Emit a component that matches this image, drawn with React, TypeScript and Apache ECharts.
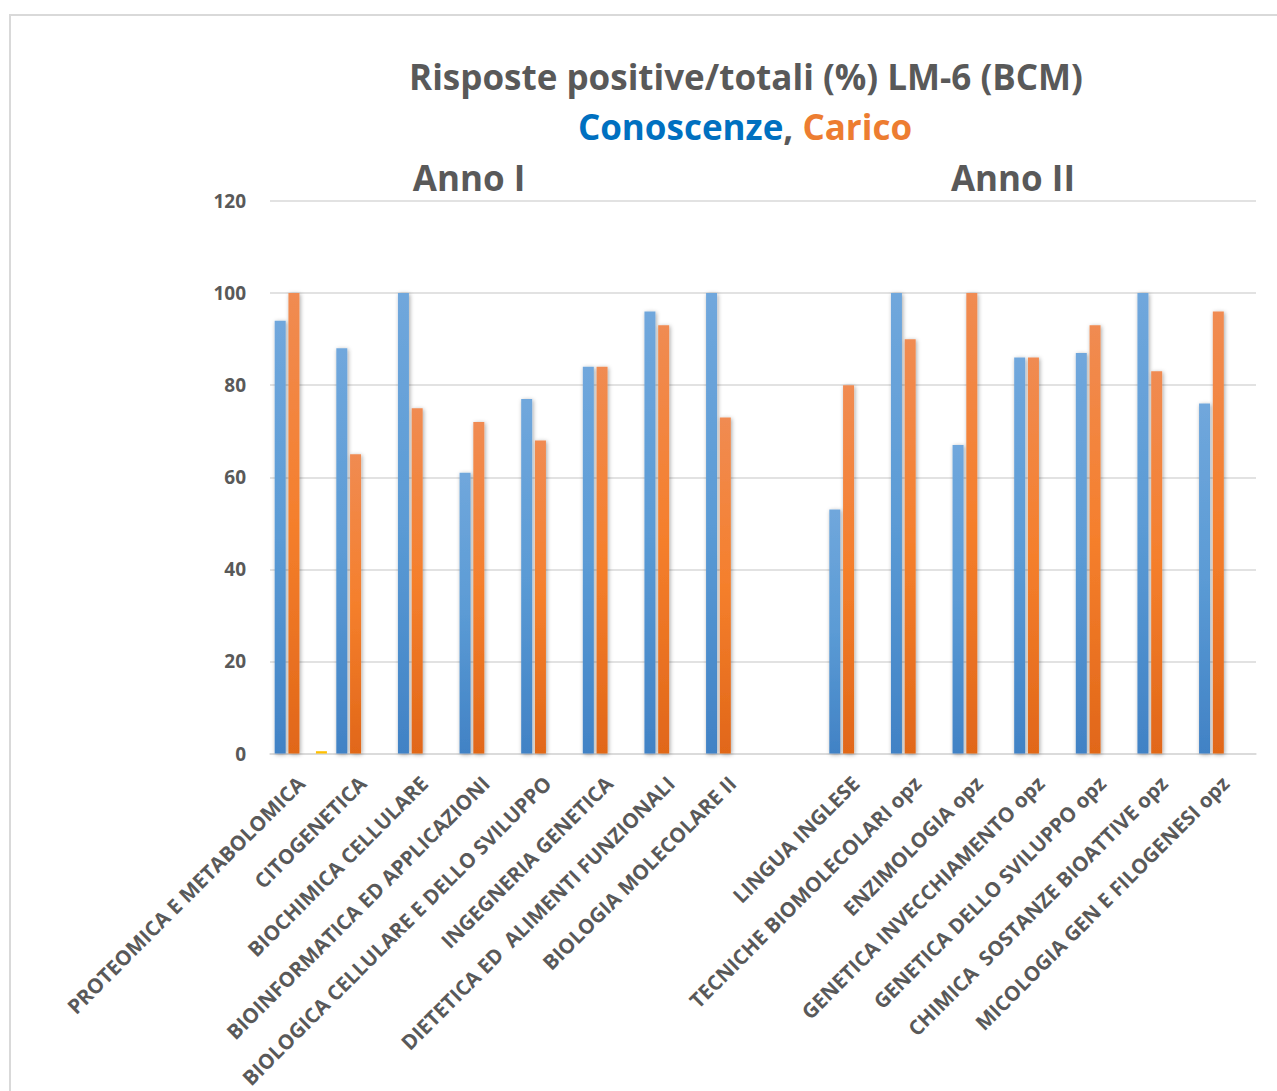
import React, { useEffect, useRef } from "react";
import * as echarts from "echarts";

const categories = [
  "PROTEOMICA E METABOLOMICA",
  "CITOGENETICA",
  "BIOCHIMICA CELLULARE",
  "BIOINFORMATICA ED APPLICAZIONI",
  "BIOLOGICA CELLULARE E DELLO SVILUPPO",
  "INGEGNERIA GENETICA",
  "DIETETICA ED  ALIMENTI FUNZIONALI",
  "BIOLOGIA MOLECOLARE II",
  "",
  "LINGUA INGLESE",
  "TECNICHE BIOMOLECOLARI opz",
  "ENZIMOLOGIA opz",
  "GENETICA INVECCHIAMENTO opz",
  "GENETICA DELLO SVILUPPO opz",
  "CHIMICA  SOSTANZE BIOATTIVE opz",
  "MICOLOGIA GEN E FILOGENESI opz",
];

const conoscenze = [94, 88, 100, 61, 77, 84, 96, 100, null, 53, 100, 67, 86, 87, 100, 76];
const carico = [100, 65, 75, 72, 68, 84, 93, 73, null, 80, 90, 100, 86, 93, 83, 96];
const serie3 = [null, null, null, null, null, null, null, null, null, null, null, null, null, null, null, null];
const serie4 = [0.5, null, null, null, null, null, null, null, null, null, null, null, null, null, null, null];

const yTicks = { min: 0, max: 120, interval: 20 };

const FONT = "'Open Sans', 'Liberation Sans', sans-serif";
const GRAY = "#595959";

export default function App() {
  const ref = useRef<HTMLDivElement>(null);

  useEffect(() => {
    if (!ref.current) return;
    const chart = echarts.init(ref.current, undefined, { renderer: "svg" });

    const blueGrad = new echarts.graphic.LinearGradient(0, 0, 0, 1, [
      { offset: 0, color: "#70a7dc" },
      { offset: 0.5, color: "#5b9bd5" },
      { offset: 1, color: "#4182c5" },
    ]);
    const orangeGrad = new echarts.graphic.LinearGradient(0, 0, 0, 1, [
      { offset: 0, color: "#f08b52" },
      { offset: 0.5, color: "#f57f2c" },
      { offset: 1, color: "#e16719" },
    ]);

    const shadow = {
      shadowBlur: 4,
      shadowColor: "rgba(0,0,0,0.35)",
      shadowOffsetX: 1,
      shadowOffsetY: 1,
    };

    const big = { fontFamily: FONT, fontWeight: "bold", fontSize: 35, color: GRAY };

    chart.setOption({
      animation: false,
      backgroundColor: "#ffffff",
      title: [
        {
          text: "Risposte positive/totali (%) LM-6 (BCM)",
          left: 741,
          top: 54,
          textAlign: "center",
          textStyle: big,
        },
        {
          text: "{b|Conoscenze}{g|, }{o|Carico}",
          left: 740,
          top: 104,
          textAlign: "center",
          textStyle: {
            rich: {
              b: { ...big, color: "#0070c0" },
              g: { ...big, color: GRAY },
              o: { ...big, color: "#ed7d31" },
            },
          },
        },
        { text: "Anno I", left: 464, top: 155, textAlign: "center", textStyle: big },
        { text: "Anno II", left: 1008, top: 155, textAlign: "center", textStyle: big },
      ],
      graphic: [
        {
          type: "rect",
          shape: { x: 10, y: 15, width: 1300, height: 1100 },
          style: { fill: "none", stroke: "#d9d9d9", lineWidth: 2 },
          silent: true,
        },
      ],
      grid: { left: 270, right: 21, top: 201, bottom: 335, containLabel: false },
      xAxis: {
        type: "category",
        data: categories,
        axisLine: { show: true, lineStyle: { color: "#d9d9d9", width: 1.5 } },
        axisTick: { show: false },
        axisLabel: {
          interval: 0,
          rotate: 45,
          margin: 26,
          fontFamily: FONT,
          fontWeight: "bold",
          fontSize: 20.5,
          color: GRAY,
        },
      },
      yAxis: {
        type: "value",
        min: yTicks.min,
        max: yTicks.max,
        interval: yTicks.interval,
        axisLine: { show: false },
        axisTick: { show: false },
        axisLabel: {
          margin: 24,
          fontFamily: FONT,
          fontWeight: "bold",
          fontSize: 19,
          color: GRAY,
        },
        splitLine: { lineStyle: { color: "#d9d9d9", width: 1.5 } },
      },
      series: [
        {
          name: "Conoscenze",
          type: "bar",
          data: conoscenze,
          barWidth: 11,
          barGap: "25%",
          itemStyle: { color: blueGrad, ...shadow },
        },
        {
          name: "Carico",
          type: "bar",
          data: carico,
          barWidth: 11,
          barGap: "25%",
          itemStyle: { color: orangeGrad, ...shadow },
        },
        {
          name: "Serie 3",
          type: "bar",
          data: serie3,
          barWidth: 11,
          barGap: "25%",
          itemStyle: { color: "#a5a5a5" },
        },
        {
          name: "Serie 4",
          type: "bar",
          data: serie4,
          barWidth: 11,
          barGap: "25%",
          itemStyle: { color: "#ffc000" },
        },
      ],
    });

    return () => chart.dispose();
  }, []);

  return (
    <div
      ref={ref}
      style={{ position: "absolute", left: 0, top: 0, width: 1277, height: 1091 }}
    />
  );
}
